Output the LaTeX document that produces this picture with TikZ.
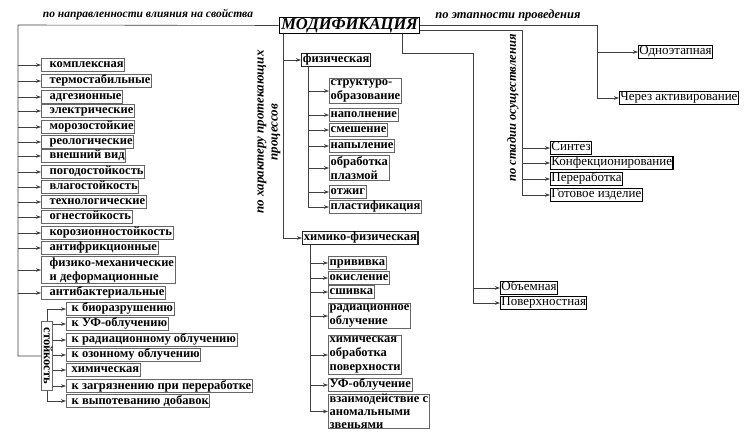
\documentclass[tikz,border=0pt]{standalone}
\usepackage{fontspec}
\setmainfont{Liberation Serif}
\usetikzlibrary{arrows.meta}
\begin{document}
\begin{tikzpicture}[x=1pt,y=-1pt,
  ln/.style={draw=black!75, line width=0.6pt},
  arr/.style={ln, -{Stealth[length=5pt,width=3.5pt]}},
  lbox/.style={draw=black!60, line width=1pt, font=\bfseries\fontsize{12.5}{14}\selectfont, inner xsep=1.2pt, inner ysep=0.5pt, anchor=west, align=left, text height=9pt, text depth=3pt},
  ml/.style={text height={}, text depth={}, inner ysep=1pt},
  mbox/.style={lbox, draw=black!85, line width=1.3pt},
  rbox/.style={draw=black, line width=1.2pt, font=\fontsize{13}{14}\selectfont, inner xsep=0.8pt, inner ysep=0.5pt, anchor=west, text height=9pt, text depth=3pt},
  lab/.style={font=\bfseries\itshape\fontsize{11.5}{13}\selectfont, inner sep=0pt},
]
\useasboundingbox (0,0) rectangle (744,435);
\fill[white] (0,0) rectangle (744,435);

% central node
\node[draw, line width=1.2pt, font=\bfseries\itshape\fontsize{16.5}{17}\selectfont, inner xsep=2pt, inner ysep=1pt] (mod) at (349.5,25.5) {МОДИФИКАЦИЯ};

% ---------- left branch ----------
\coordinate (tl) at (18,25);
\node[lab] (labL) at (148,15) {по направленности влияния на свойства};

\node[lbox] (l1) at (41,65) {\hspace*{7pt}комплексная};
\node[lbox] (l2) at (41,81) {\hspace*{7pt}термостабильные};
\node[lbox] (l3) at (41,97) {\hspace*{7pt}адгезионные};
\node[lbox] (l4) at (41,111) {\hspace*{7pt}электрические};
\node[lbox] (l5) at (41,127) {\hspace*{7pt}морозостойкие};
\node[lbox] (l6) at (41,142) {\hspace*{7pt}реологические};
\node[lbox] (l7) at (41,156) {\hspace*{7pt}внешний вид};
\node[lbox] (l8) at (41,172) {\hspace*{7pt}погодостойкость};
\node[lbox] (l9) at (41,187) {\hspace*{7pt}влагостойкость};
\node[lbox] (l10) at (41,202) {\hspace*{7pt}технологические};
\node[lbox] (l11) at (41,217) {\hspace*{7pt}огнестойкость};
\node[lbox] (l12) at (41,233) {\hspace*{7pt}корозионностойкость};
\node[lbox] (l13) at (41,248) {\hspace*{7pt}антифрикционные};
\node[lbox, ml] (l14) at (41,270) {\hspace*{7pt}физико-механические\\\hspace*{7pt}и деформационные};
\node[lbox] (l15) at (41,293) {\hspace*{7pt}антибактериальные};

\node[lbox, anchor=center, rotate=-90, minimum width=68pt, inner xsep=0pt, text height=8pt, text depth=1.5pt] (st) at (47,356) {стойкость};

\node[lbox] (s1) at (66,309) {\hspace*{4pt}к биоразрушению};
\node[lbox] (s2) at (66,324) {\hspace*{4pt}к УФ-облучению};
\node[lbox] (s3) at (66,340) {\hspace*{4pt}к радиационному облучению};
\node[lbox] (s4) at (66,355) {\hspace*{4pt}к озонному облучению};
\node[lbox] (s5) at (66,370) {\hspace*{4pt}химическая};
\node[lbox] (s6) at (66,386) {\hspace*{4pt}к загрязнению при переработке};
\node[lbox] (s7) at (66,401) {\hspace*{4pt}к выпотеванию добавок};

\draw[ln] (mod.west) -- (tl) -- (tl |- st.south) -- (st.south);
\foreach \i in {1,...,15} { \draw[arr] (l\i.west -| tl) -- (l\i.west); }
\draw[arr] (st.west) |- (s1.west);
\draw[arr] (st.east) |- (s7.west);
\foreach \i in {2,...,6} { \draw[arr] (s\i.west -| st.north) -- (s\i.west); }

% ---------- middle branch ----------
\coordinate (tm) at (283,0);
\coordinate (fv) at (308,0);
\coordinate (hv) at (310,0);
\node[lab, rotate=90, align=center, font=\bfseries\itshape\fontsize{13}{14}\selectfont] (labM) at (269,132) {по характеру протекающих\\процессов};

\node[mbox] (f) at (301,60) {физическая};
\node[lbox, ml] (p1) at (329,91) {структуро-\\образование};
\node[lbox] (p2) at (329,115) {наполнение};
\node[lbox] (p3) at (329,130) {смешение};
\node[lbox] (p4) at (329,146) {напыление};
\node[lbox, ml] (p5) at (329,168) {обработка\\плазмой};
\node[lbox] (p6) at (329,192) {отжиг};
\node[lbox] (p7) at (329,207) {пластификация};

\node[mbox] (h) at (302,238) {химико-физическая};
\node[lbox] (c1) at (328,263) {прививка};
\node[lbox] (c2) at (328,278) {окисление};
\node[lbox] (c3) at (328,292) {сшивка};
\node[lbox, ml] (c4) at (328,316) {радиационное\\облучение};
\node[lbox, ml] (c5) at (328,355) {химическая\\обработка\\поверхности};
\node[lbox] (c6) at (328,385) {УФ-облучение};
\node[lbox, ml, anchor=north west, inner ysep=0.3pt, font=\bfseries\fontsize{12.5}{12.8}\selectfont] (c7) at (328,393.5) {взаимодействие с\\аномальными\\звеньями};

\draw[arr] (mod.south -| tm) |- (h.west);
\draw[arr] (f.west -| tm) -- (f.west);
\draw[ln] (f.south -| fv) -- (fv |- p7.west);
\foreach \i in {1,...,6} { \draw[arr] (p\i.west -| fv) -- (p\i.west); }
\draw[arr] (p7.west -| fv) -- (p7.west);
\draw[ln] (h.south -| hv) -- (hv |- c7.west);
\foreach \i in {1,...,7} { \draw[arr] (c\i.west -| hv) -- (c\i.west); }

% ---------- right branches ----------
\coordinate (te) at (597,0);
\node[lab, font=\bfseries\itshape\fontsize{12.5}{13}\selectfont] (labR) at (508,15) {по этапности проведения};
\node[rbox] (e1) at (638,52) {Одноэтапная};
\node[rbox] (e2) at (619,98) {Через активирование};
\draw[arr] (mod.east) -- (mod.east -| te) |- (e2.west);
\draw[arr] (e1.west -| te) -- (e1.west);

\coordinate (sv) at (522,30);
\node[lab, rotate=90, font=\bfseries\itshape\fontsize{12.5}{13}\selectfont] (labS) at (513,108) {по стадии осуществления};
\node[rbox] (g1) at (550,148) {Синтез};
\node[rbox] (g2) at (550,163) {Конфекционирование};
\node[rbox] (g3) at (550,179) {Переработка};
\node[rbox] (g4) at (550,195) {Готовое изделие};
\draw[arr] (mod.east |- sv) -- (sv) |- (g4.west);
\foreach \i in {1,2,3} { \draw[arr] (g\i.west -| sv) -- (g\i.west); }

\coordinate (ov) at (402,53);
\coordinate (ov2) at (473,53);
\node[rbox] (v1) at (500,288) {Объемная};
\node[rbox] (v2) at (500,303) {Поверхностная};
\draw[arr] (mod.south -| ov) -- (ov) -- (ov2) |- (v2.west);
\draw[arr] (v1.west -| ov2) -- (v1.west);
\end{tikzpicture}
\end{document}
